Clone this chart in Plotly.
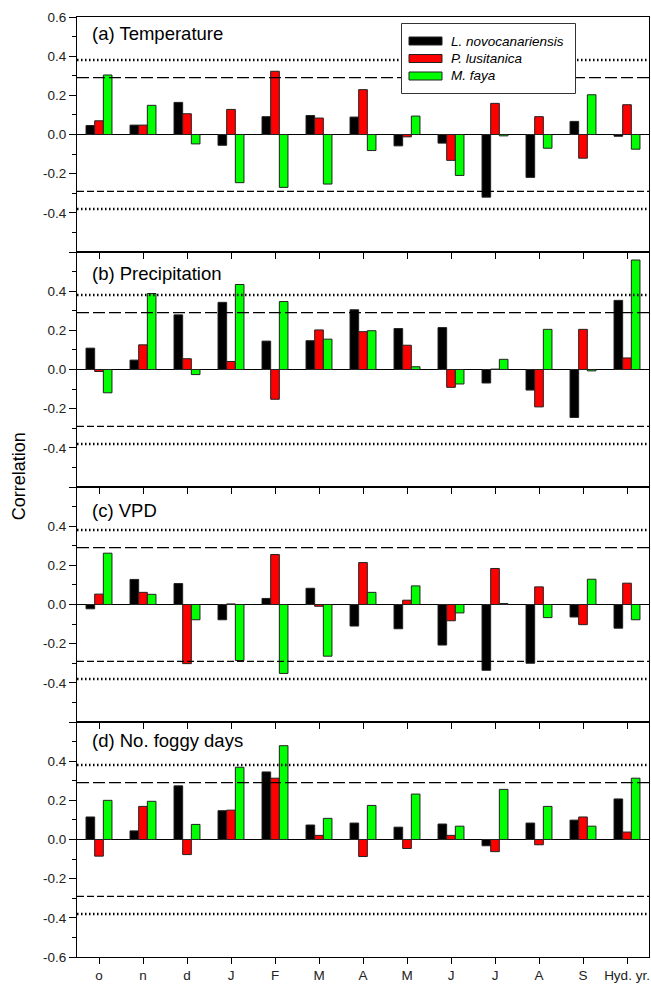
import plotly.graph_objects as go
from plotly.subplots import make_subplots

# Months of the hydrological year plus the annual value
months = ["o", "n", "d", "J", "F", "M", "A", "M", "J", "J", "A", "S", "Hyd. yr."]
species = ["L. novocanariensis", "P. lusitanica", "M. faya"]
colors = ["#000000", "#ff0000", "#00ff00"]

# (a) Temperature
temp_lnov = [0.046, 0.048, 0.164, -0.055, 0.091, 0.097, 0.089, -0.058, -0.044, -0.320, -0.219, 0.067, -0.009]
temp_plus = [0.070, 0.048, 0.106, 0.128, 0.323, 0.084, 0.229, -0.012, -0.132, 0.159, 0.091, -0.121, 0.152]
temp_mfay = [0.304, 0.149, -0.048, -0.246, -0.270, -0.253, -0.082, 0.094, -0.209, -0.007, -0.070, 0.203, -0.075]

# (b) Precipitation
prec_lnov = [0.109, 0.048, 0.279, 0.343, 0.145, 0.147, 0.305, 0.209, 0.214, -0.069, -0.105, -0.245, 0.353]
prec_plus = [-0.010, 0.126, 0.055, 0.041, -0.152, 0.202, 0.193, 0.124, -0.091, 0.002, -0.191, 0.205, 0.059]
prec_mfay = [-0.119, 0.388, -0.026, 0.434, 0.347, 0.155, 0.198, 0.014, -0.074, 0.052, 0.205, -0.007, 0.559]

# (c) VPD
vpd_lnov = [-0.022, 0.128, 0.107, -0.078, 0.031, 0.083, -0.110, -0.124, -0.207, -0.336, -0.300, -0.064, -0.121]
vpd_plus = [0.053, 0.062, -0.302, 0.003, 0.255, -0.009, 0.214, 0.022, -0.083, 0.184, 0.090, -0.103, 0.109]
vpd_mfay = [0.262, 0.052, -0.078, -0.286, -0.352, -0.264, 0.062, 0.095, -0.043, 0.005, -0.067, 0.129, -0.078]

# (d) Number of foggy days
fog_lnov = [0.115, 0.044, 0.274, 0.147, 0.345, 0.074, 0.084, 0.063, 0.079, -0.032, 0.084, 0.099, 0.207]
fog_plus = [-0.085, 0.169, -0.077, 0.150, 0.313, 0.021, -0.087, -0.046, 0.021, -0.062, -0.027, 0.115, 0.038]
fog_mfay = [0.200, 0.195, 0.077, 0.369, 0.479, 0.108, 0.174, 0.232, 0.068, 0.256, 0.169, 0.068, 0.313]

panels = [
    ("(a) Temperature", [temp_lnov, temp_plus, temp_mfay]),
    ("(b) Precipitation", [prec_lnov, prec_plus, prec_mfay]),
    ("(c) VPD", [vpd_lnov, vpd_plus, vpd_mfay]),
    ("(d) No. foggy days", [fog_lnov, fog_plus, fog_mfay]),
]

# Significance thresholds
sig_95 = 0.29
sig_99 = 0.38

y_ticks = [-0.6, -0.4, -0.2, 0.0, 0.2, 0.4, 0.6]

FONT = "Arial, Liberation Sans, sans-serif"
x = list(range(len(months)))
n_rows = len(panels)

fig = make_subplots(rows=n_rows, cols=1, vertical_spacing=0)

for r, (label, series) in enumerate(panels, start=1):
    for name, col, vals in zip(species, colors, series):
        fig.add_trace(
            go.Bar(
                x=x, y=vals, name=name,
                marker=dict(color=col, line=dict(color="#222222", width=1)),
                showlegend=False, hoverinfo="skip",
            ),
            row=r, col=1,
        )

    ax = "" if r == 1 else str(r)
    for sign in (1, -1):
        fig.add_shape(type="line", xref=f"x{ax} domain", yref=f"y{ax}",
                      x0=0, x1=1, y0=sign * sig_95, y1=sign * sig_95,
                      line=dict(color="black", width=1.3,
                                dash="12px,4px" if sign > 0 else "7px,3px"))
        fig.add_shape(type="line", xref=f"x{ax} domain", yref=f"y{ax}",
                      x0=0, x1=1, y0=sign * sig_99, y1=sign * sig_99,
                      line=dict(color="black", width=2.5, dash="1.5px,2.5px"))

    fig.add_annotation(text=label, xref=f"x{ax} domain", yref=f"y{ax} domain",
                       x=0.022, y=[0.93, 0.91, 0.9, 0.92][r - 1],
                       xanchor="left", yanchor="middle", showarrow=False,
                       font=dict(family=FONT, size=18.5, color="black"))

    ticktext = []
    for v in y_ticks:
        if (v == 0.6 and r != 1) or (v == -0.6 and r != n_rows):
            ticktext.append("")
        else:
            ticktext.append(f"{v:.1f}")

    fig.update_yaxes(
        row=r, col=1, range=[-0.6, 0.6], tickmode="array",
        tickvals=y_ticks, ticktext=ticktext, ticks="outside", ticklen=7,
        tickwidth=1.3, tickcolor="black",
        minor=dict(dtick=0.1, tick0=0.0, ticks="outside", ticklen=4, tickcolor="black"),
        showline=True, linecolor="black", linewidth=1, mirror=True,
        showgrid=False, zeroline=True, zerolinecolor="black", zerolinewidth=1.2,
        tickfont=dict(family=FONT, size=13.5, color="#222"),
    )
    # Bottom-axis ticks of each panel reach down into the panel below
    fig.update_xaxes(
        row=r, col=1, range=[-0.5, len(months) - 0.5], tickmode="array",
        tickvals=x, ticktext=months, ticks="outside", ticklen=6, tickwidth=1.3,
        tickcolor="black", showline=True, linecolor="black", linewidth=1,
        mirror=True, showgrid=False, zeroline=False,
        showticklabels=(r == n_rows),
        tickfont=dict(family=FONT, size=13.5, color="#222"),
    )

fig.add_annotation(text="Correlation", xref="paper", yref="paper",
                   x=-0.102, y=0.511, textangle=-90, showarrow=False,
                   xanchor="center", yanchor="middle",
                   font=dict(family=FONT, size=18, color="black"))

# Legend key: framed box with wide colour swatches, placed inside panel (a)
H = 940.0   # plot area height in px
W = 572.0   # plot area width in px
def px_x(p):
    return (p - 77) / W
def px_y(p):
    return (957 - p) / H

fig.add_shape(type="rect", xref="paper", yref="paper",
              x0=px_x(401.5), x1=px_x(575.5), y0=px_y(93.5), y1=px_y(23.5),
              line=dict(color="#333", width=1), fillcolor="white", layer="above")
for i, (name, col) in enumerate(zip(species, colors)):
    yc = 41 + i * 17.5
    fig.add_shape(type="rect", xref="paper", yref="paper",
                  x0=px_x(409), x1=px_x(442), y0=px_y(yc + 4), y1=px_y(yc - 4),
                  line=dict(color="#222", width=1), fillcolor=col, layer="above")
    fig.add_annotation(text=f"<i>{name}</i>", xref="paper", yref="paper",
                       x=px_x(449), y=px_y(yc), xanchor="left", yanchor="middle",
                       showarrow=False,
                       font=dict(family=FONT, size=13.5, color="black"))

fig.update_layout(
    width=651, height=985,
    margin=dict(l=77, r=2, t=17, b=28),
    barmode="group", bargap=0.41, bargroupgap=0,
    plot_bgcolor="rgba(0,0,0,0)", paper_bgcolor="white",
    showlegend=False,
)

fig.write_html("out.html")
